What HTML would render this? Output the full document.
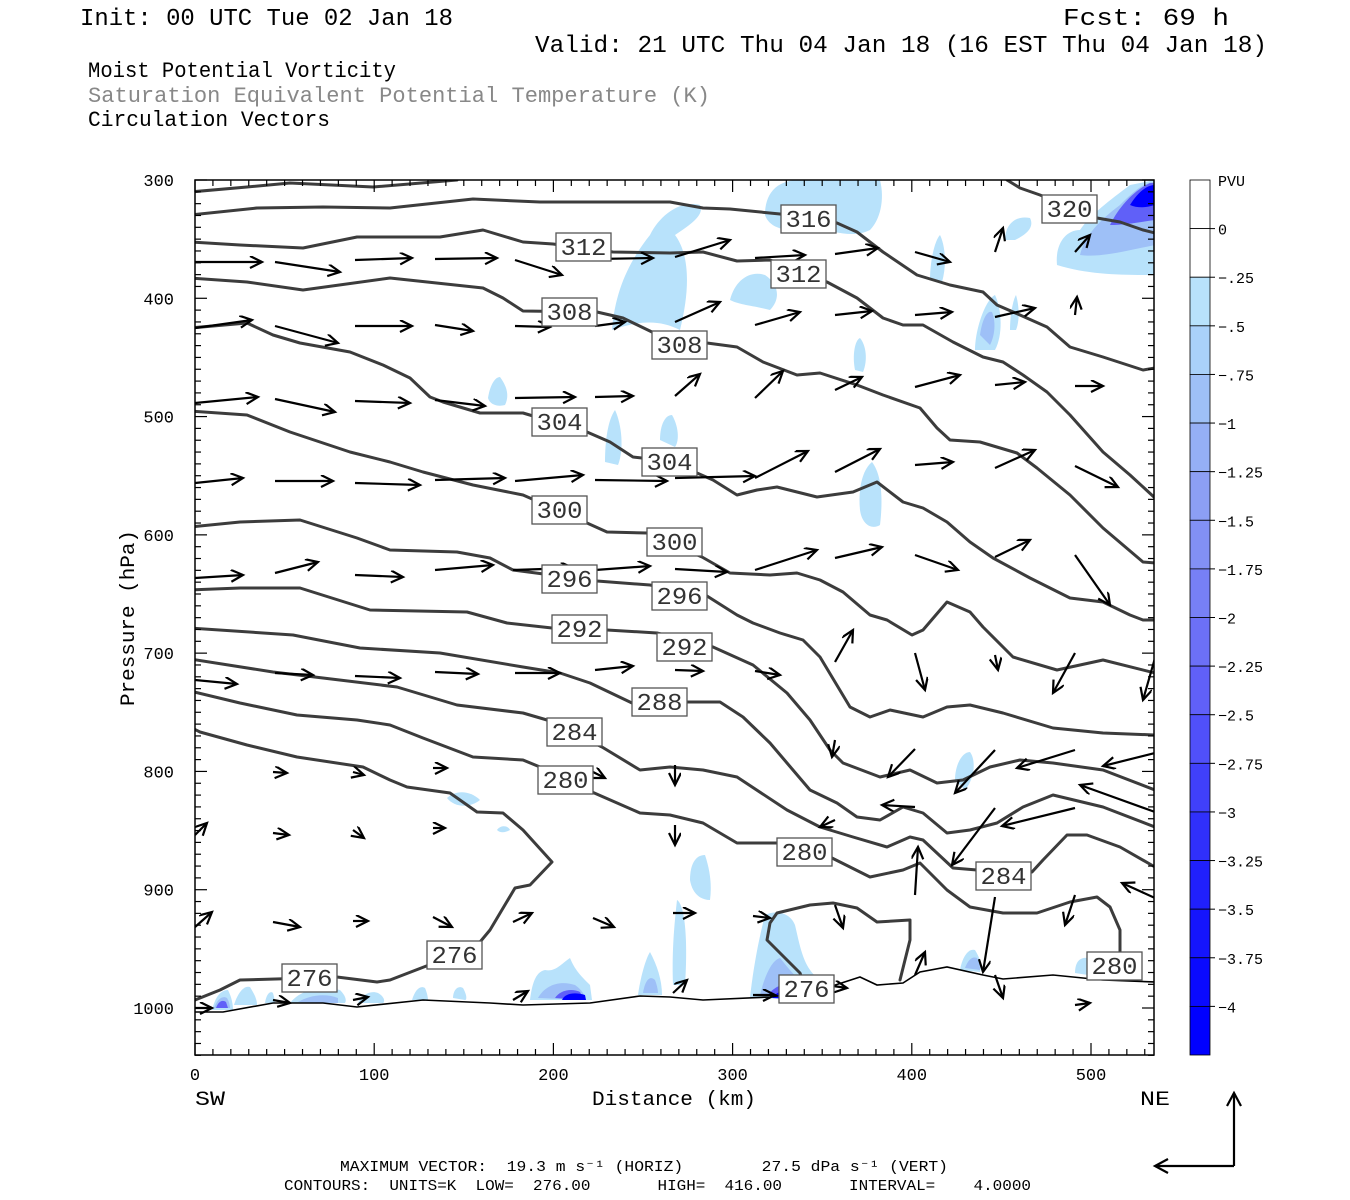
<!DOCTYPE html>
<html><head><meta charset="utf-8"><style>
html,body{margin:0;padding:0;background:#fff;}
svg{display:block;}
text{font-family:"Liberation Mono","DejaVu Sans Mono",monospace;}
</style></head><body>
<svg id="s" width="1350" height="1200" viewBox="0 0 1350 1200" xmlns="http://www.w3.org/2000/svg">
<defs>
<clipPath id="pc"><rect x="195" y="180" width="959" height="875"/></clipPath>
<marker id="ah" markerUnits="userSpaceOnUse" markerWidth="16" markerHeight="14" refX="13" refY="6" orient="auto">
<path d="M1,0 L13,6 L1,12" fill="none" stroke="#000" stroke-width="2.2"/>
</marker>
</defs>
<rect width="1350" height="1200" fill="#fff"/>
<!-- header -->
<text x="80" y="25" font-size="24" textLength="373" lengthAdjust="spacingAndGlyphs">Init: 00 UTC Tue 02 Jan 18</text>
<text x="1063" y="25" font-size="24" textLength="166" lengthAdjust="spacingAndGlyphs">Fcst:   69 h</text>
<text x="535" y="52" font-size="24" textLength="732" lengthAdjust="spacingAndGlyphs">Valid: 21 UTC Thu 04 Jan 18 (16 EST Thu 04 Jan 18)</text>
<text x="88" y="77" font-size="22" textLength="308" lengthAdjust="spacingAndGlyphs">Moist Potential Vorticity</text>
<text x="88" y="102" font-size="22" fill="#888" textLength="622" lengthAdjust="spacingAndGlyphs">Saturation Equivalent Potential Temperature (K)</text>
<text x="88" y="126" font-size="22" textLength="242" lengthAdjust="spacingAndGlyphs">Circulation Vectors</text>

<g clip-path="url(#pc)">
<!-- shading -->
<g fill="#b8e2fb">
<path d="M612,330 C615,290 630,260 650,235 C660,215 680,200 700,205 C705,215 690,225 675,235 C690,255 690,290 680,330 C660,320 640,320 612,330Z"/>
<path d="M730,300 C735,280 750,270 765,275 C780,285 780,300 770,310 C750,305 740,305 730,300Z"/>
<path d="M765,215 C765,195 775,180 800,180 L880,180 C885,200 880,220 870,230 C850,240 830,228 810,230 C790,232 770,230 765,215Z"/>
<path d="M930,280 C930,260 935,240 940,235 C945,245 947,265 942,282Z"/>
<path d="M1005,240 C1005,225 1015,215 1030,218 C1035,228 1025,235 1015,240Z"/>
<path d="M1057,265 C1055,245 1065,230 1080,230 C1090,215 1110,200 1130,185 L1155,180 L1155,275 C1120,275 1090,275 1057,265Z"/>
<path d="M975,350 C975,330 985,300 995,295 C1002,310 1003,335 995,350Z"/>
<path d="M1010,330 C1010,315 1013,300 1016,295 C1019,305 1020,320 1016,330Z"/>
<path d="M855,370 C852,355 855,340 860,338 C866,345 868,360 863,372Z"/>
<path d="M488,398 C490,385 495,377 500,377 C506,385 510,395 505,405 C498,407 490,405 488,398Z"/>
<path d="M605,462 C605,440 608,420 615,410 C622,425 624,450 618,465Z"/>
<path d="M660,440 C660,425 665,415 672,415 C678,425 680,440 675,447Z"/>
<path d="M860,510 C858,490 862,470 872,462 C882,475 883,500 880,525 C872,530 862,525 860,510Z"/>
<path d="M955,780 C955,765 962,752 970,752 C976,760 975,778 965,790Z"/>
<path d="M447,798 C455,790 470,790 480,800 C470,808 455,808 447,798Z"/>
<path d="M497,830 C500,825 508,825 510,830 C505,833 500,833 497,830Z"/>
<path d="M690,880 C690,865 695,855 705,855 C710,870 712,885 710,900 C700,900 692,893 690,880Z"/>
<path d="M673,985 C672,960 673,935 677,900 C685,905 688,940 685,985Z"/>
<path d="M750,998 C752,980 756,950 765,915 C775,910 790,912 795,925 C802,955 805,975 830,985 L830,1000 Z"/>
<path d="M530,1000 C532,985 535,972 545,970 C555,972 560,965 570,958 C575,970 580,975 590,985 L592,1000Z"/>
<path d="M638,995 C640,980 645,960 650,952 C657,965 662,980 662,995Z"/>
<path d="M212,1010 C215,998 220,990 228,990 C232,998 233,1005 233,1010Z"/>
<path d="M234,1005 C237,995 243,985 250,987 C255,995 257,1000 257,1005Z"/>
<path d="M265,1003 C266,995 270,990 273,993 C275,1000 275,1003 275,1003Z"/>
<path d="M290,1003 C300,990 320,985 340,990 C345,995 347,1000 345,1003Z"/>
<path d="M358,1003 C362,995 370,990 378,993 C385,997 385,1002 383,1003Z"/>
<path d="M412,1000 C415,990 420,985 425,988 C428,995 428,1000 428,1000Z"/>
<path d="M453,998 C453,990 458,985 463,988 C467,995 467,1000 465,1000Z"/>
<path d="M960,970 C962,958 968,948 975,950 C980,958 982,965 980,972Z"/>
<path d="M1075,973 C1075,962 1080,957 1087,958 L1088,975Z"/>
</g>
<g fill="#9ec0f7">
<path d="M1080,255 C1085,235 1100,220 1120,205 C1135,190 1145,182 1155,182 L1155,245 C1130,250 1100,258 1080,255Z"/>
<path d="M980,335 C982,320 987,310 992,312 C996,322 995,335 990,345Z"/>
<path d="M760,995 C765,975 772,960 780,958 C790,970 800,985 820,990 L820,1000Z"/>
<path d="M538,998 C545,985 560,980 575,985 C582,990 585,995 585,1000Z"/>
<path d="M643,993 C645,980 650,975 655,980 C658,988 658,993 658,993Z"/>
<path d="M214,1008 C217,1000 222,995 227,998 C230,1003 230,1008 230,1008Z"/>
<path d="M965,968 C968,960 972,956 977,958 C980,963 980,968 980,970Z"/>
<path d="M298,1002 C310,995 325,993 338,998 L338,1003Z"/>
</g>
<g fill="#6060f8">
<path d="M1110,225 C1120,205 1135,190 1150,183 L1155,183 L1155,220 C1140,222 1125,225 1110,225Z"/>
<path d="M768,995 C775,985 790,980 805,985 C812,990 815,995 815,1000Z"/>
<path d="M555,998 C560,990 572,988 580,992 L584,1000Z"/>
<path d="M216,1008 C218,1002 222,999 226,1002 L228,1008Z"/>
</g>
<g fill="#0000ff">
<path d="M1130,205 C1138,192 1147,185 1155,185 L1155,205 C1145,208 1137,208 1130,205Z"/>
<path d="M772,998 C778,990 790,988 800,990 C805,994 808,998 808,1000Z"/>
<path d="M562,1000 C565,993 575,992 585,995 L586,1000Z"/>
</g>

<!-- contours -->
<g fill="none" stroke="#3c3c3c" stroke-width="3" stroke-linejoin="round" stroke-linecap="round">
<polyline points="190,192 247,187 290,183 373,187 457,180"/>
<polyline points="190,215 257,208 323,207 390,208 473,199 540,202 670,202 703,208 730,209 780,214 837,223 857,232 883,252 917,275 950,285 983,292 997,305 1020,315 1047,327 1070,347 1103,357 1143,370 1155,368"/>
<polyline points="1007,180 1020,188 1040,195 1097,218 1120,222 1143,230 1155,233"/>
<polyline points="190,242 240,245 303,248 357,237 440,237 483,230 523,242 553,244 613,252 670,253 703,252 737,261 770,260 827,282 857,298 883,318 903,325 923,325 953,342 983,357 1003,362 1023,375 1047,392 1070,415 1103,452 1130,475 1155,498"/>
<polyline points="190,278 247,282 303,290 390,278 483,288 503,298 523,311 597,312 623,318 652,332 707,343 737,347 763,362 797,375 820,373 857,385 883,395 920,408 937,428 950,440 980,442 1017,453 1037,468 1070,495 1103,528 1143,562 1155,563"/>
<polyline points="190,328 247,323 273,335 300,343 350,352 383,365 410,378 430,397 443,402 480,413 523,413 587,432 610,442 633,457 642,458 697,473 713,480 737,495 757,490 777,487 817,497 853,492 877,482 903,502 923,508 947,522 970,542 993,558 1030,578 1070,598 1103,602 1130,615 1143,620 1155,620"/>
<polyline points="190,411 247,415 290,432 350,452 390,462 423,472 473,485 523,495 587,523 607,532 647,533 702,557 730,573 770,575 797,573 820,580 843,592 870,615 887,620 912,635 923,630 947,602 970,612 983,627 1013,657 1057,670 1103,660 1155,673"/>
<polyline points="190,527 240,522 300,520 357,538 390,550 457,552 490,558 513,570 597,581 650,585 707,596 737,615 753,623 780,633 803,640 820,657 850,707 870,717 890,710 923,717 947,707 970,705 1003,713 1053,728 1103,733 1155,735"/>
<polyline points="190,590 240,588 300,588 370,610 467,612 507,623 552,628 607,630 657,633 713,647 753,665 787,693 810,720 830,750 843,763 880,777 910,770 937,783 963,780 990,767 1020,760 1053,763 1103,770 1155,790"/>
<polyline points="190,628 293,635 360,648 440,653 523,667 560,673 590,683 632,703 687,702 720,702 743,717 770,743 787,763 810,790 837,803 857,817 880,820 903,807 923,813 947,833 970,830 997,823 1023,807 1053,795 1103,807 1155,827"/>
<polyline points="190,659 273,672 323,678 397,687 457,705 523,713 547,720 602,747 640,770 670,767 703,770 737,777 787,810 820,827 853,837 887,847 910,837 923,840 953,868 977,870 1032,872 1043,860 1067,835 1087,835 1120,847 1155,867"/>
<polyline points="190,691 240,703 297,715 357,720 390,725 423,738 473,757 523,760 540,767 592,792 640,813 670,815 703,823 737,843 777,843 832,858 870,877 903,870 920,863 947,890 970,907 1003,913 1037,913 1070,902 1097,897 1110,907 1120,930 1120,966"/>
<polyline points="190,727 200,732 247,745 297,757 363,767 390,780 407,787 450,793 477,812 503,813 523,830 552,862 530,885 515,888 490,930 480,942 455,955 390,980 377,982 337,977 310,978 240,980 220,990 190,1002"/>
<polyline points="806,990 800,973 767,940 770,923 777,913 810,905 833,903 857,908 877,922 910,920 910,940 900,980"/>
</g>
<polyline fill="none" stroke="#000" stroke-width="1.6" points="190,1012 223,1012 273,1003 323,1003 357,1007 423,1000 490,1003 523,1005 590,1003 640,996 670,997 703,1000 770,997 820,990 860,977 877,985 903,983 920,972 947,967 983,975 1003,979 1053,975 1103,980 1155,982"/>

<!-- vectors -->
<g id="vec" stroke="#000" stroke-width="2.2" fill="none" marker-end="url(#ah)"></g>

<!-- labels -->
<g id="lab"></g>
</g>

<!-- frame -->
<rect x="195" y="180" width="959" height="875" fill="none" stroke="#000" stroke-width="1.5"/>
<g id="ticks" stroke="#000" stroke-width="1.2"></g>
<g id="ylab" font-size="17" text-anchor="end"></g>
<g id="xlab" font-size="17" text-anchor="middle"></g>
<text transform="translate(134,618) rotate(-90)" font-size="20" text-anchor="middle" textLength="176" lengthAdjust="spacingAndGlyphs">Pressure (hPa)</text>
<text x="674" y="1105" font-size="20" text-anchor="middle" textLength="164" lengthAdjust="spacingAndGlyphs">Distance (km)</text>
<text x="195" y="1105" font-size="20" textLength="30" lengthAdjust="spacingAndGlyphs">SW</text>
<text x="1140" y="1105" font-size="20" textLength="30" lengthAdjust="spacingAndGlyphs">NE</text>

<!-- colorbar -->
<g id="cb"></g>

<!-- bottom -->
<text x="340" y="1171" font-size="15" textLength="608" lengthAdjust="spacingAndGlyphs" xml:space="preserve">MAXIMUM VECTOR:  19.3 m s⁻¹ (HORIZ)        27.5 dPa s⁻¹ (VERT)</text>
<text x="284" y="1190" font-size="15" textLength="747" lengthAdjust="spacingAndGlyphs" xml:space="preserve">CONTOURS:  UNITS=K  LOW=  276.00       HIGH=  416.00       INTERVAL=    4.0000</text>
<g stroke="#000" stroke-width="2.2" fill="none">
<polyline points="1234,1166 1234,1093"/><polyline points="1227,1106 1234,1093 1241,1106"/>
<polyline points="1234,1166 1155,1166"/><polyline points="1168,1159 1155,1166 1168,1173"/>
</g>
</svg>
<script>
var NS="http://www.w3.org/2000/svg";
function el(t,a,p,txt){var e=document.createElementNS(NS,t);for(var k in a)e.setAttribute(k,a[k]);if(txt!=null)e.textContent=txt;p.appendChild(e);return e;}
// vectors
var V=[
[195,262,262,262],[275,262,340,272],[355,260,412,258],[435,259,497,258],[515,260,562,275],[595,259,653,258],[675,257,730,240],[755,258,805,255],[835,254,878,248],[915,252,950,262],[995,252,1003,228],[1075,252,1090,235],
[195,328,252,320],[275,326,338,343],[355,326,412,326],[435,325,473,331],[515,326,550,327],[595,326,625,322],[675,322,720,302],[755,325,800,312],[835,315,872,311],[915,315,952,312],[995,317,1035,308],[1075,315,1077,297],
[195,403,258,397],[275,399,335,412],[355,401,410,403],[435,400,485,406],[515,398,575,397],[595,397,633,396],[675,396,700,374],[755,398,783,371],[835,390,862,377],[915,387,960,375],[995,385,1025,382],[1075,386,1103,386],
[195,483,243,478],[275,481,333,481],[355,483,420,485],[435,480,505,478],[515,481,583,475],[595,480,667,481],[675,478,755,476],[755,478,808,451],[835,472,880,449],[915,465,953,462],[995,468,1035,450],[1075,466,1118,487],
[195,578,243,575],[275,573,318,562],[355,575,403,577],[435,570,493,565],[513,570,573,568],[595,570,650,566],[675,569,727,572],[755,570,817,550],[835,558,882,547],[915,555,958,570],[995,557,1030,540],[1075,555,1110,605],
[195,680,237,684],[275,673,313,675],[355,676,400,678],[435,672,478,674],[515,673,560,673],[595,670,633,666],[675,670,703,671],[755,671,780,675],[835,662,853,630],[915,653,925,690],[995,655,998,670],[1075,653,1053,693],[1155,658,1143,700],
[273,772,287,773],[353,772,364,775],[433,768,447,768],[593,772,605,778],[675,765,675,785],[835,740,832,757],[915,749,888,777],[995,750,955,793],[1075,750,1017,768],[1155,753,1103,766],
[195,835,207,823],[273,833,289,835],[353,830,364,838],[433,828,445,828],[675,825,675,845],[835,820,820,827],[915,807,882,805],[995,808,952,865],[1075,808,1002,826],[1155,812,1080,785],
[195,927,212,912],[273,922,300,927],[353,921,368,921],[433,917,452,927],[513,922,532,913],[593,918,614,927],[673,913,695,913],[753,916,770,918],[835,905,843,928],[915,895,918,847],[995,897,983,972],[1075,895,1065,925],[1155,898,1122,883],
[195,1008,212,1008],[273,1000,290,1003],[353,1000,368,997],[513,1000,528,991],[673,993,687,980],[753,995,775,995],[833,986,847,988],[915,975,925,952],[995,975,1003,998],[1075,1005,1090,1003]
];
var vg=document.getElementById('vec');
V.forEach(function(v){el('line',{x1:v[0],y1:v[1],x2:v[2],y2:v[3]},vg);});
// contour labels
var L=[["316",781,205],["320",1042,195],["312",556,233],["312",771,260],["308",542,298],["308",652,331],["304",532,408],["304",642,448],["300",532,496],["300",647,528],["296",542,565],["296",652,582],["292",552,615],["292",657,633],["288",632,688],["284",547,718],["284",976,862],["280",538,766],["280",777,838],["280",1087,952],["276",427,941],["276",282,964],["276",779,975]];
var lg=document.getElementById('lab');
L.forEach(function(l){el('rect',{x:l[1],y:l[2],width:55,height:28,fill:'#fff',stroke:'#555','stroke-width':1.3},lg);
el('text',{x:l[1]+27.5,y:l[2]+22,'font-size':24,'text-anchor':'middle',fill:'#333',textLength:46,lengthAdjust:'spacingAndGlyphs'},lg,l[0]);});
// ticks
var tg=document.getElementById('ticks');
var yOf=function(p){return 180+(p-300)*828/700;};
for(var p=300;p<=1040;p+=10){var y=yOf(p);var big=(p%100==0);var len=big?12:6;
el('line',{x1:195,y1:y,x2:195+len,y2:y},tg);el('line',{x1:1154,y1:y,x2:1154-len,y2:y},tg);}
var xOf=function(d){return 195+d*1.792;};
for(var d=0;d<=535;d+=10){var x=xOf(d);var big=(d%100==0);var len=big?12:6;
el('line',{x1:x,y1:1055,x2:x,y2:1055-len},tg);el('line',{x1:x,y1:180,x2:x,y2:180+len},tg);}
var yl=document.getElementById('ylab');
for(var p=300;p<=1000;p+=100){el('text',{x:174,y:yOf(p)+6},yl,String(p));}
var xl=document.getElementById('xlab');
for(var d=0;d<=500;d+=100){el('text',{x:xOf(d),y:1080},xl,String(d));}
// colorbar
var cb=document.getElementById('cb');
var cols=["#ffffff","#ffffff","#b8e2fb","#a9d1f9","#9ec0f7","#95aff6","#8c9ff5","#8290f5","#7780f6","#6c70f7","#6060f8","#5050f9","#4040fa","#3030fb","#2020fc","#1515fd","#0a0afe","#0000ff"];
var h=875/18;
cols.forEach(function(c,i){el('rect',{x:1190,y:180+i*h,width:20,height:h,fill:c,stroke:'#000','stroke-width':0.8},cb);});
var labs=["0","-.25","-.5","-.75","-1","-1.25","-1.5","-1.75","-2","-2.25","-2.5","-2.75","-3","-3.25","-3.5","-3.75","-4"];
el('text',{x:1218,y:186,'font-size':15},cb,"PVU");
labs.forEach(function(t,i){var y=180+(i+1)*h;el('line',{x1:1210,y1:y,x2:1215,y2:y,stroke:'#000'},cb);el('text',{x:1218,y:y+6,'font-size':15},cb,t.replace('-','−'));});
</script>
</body></html>
